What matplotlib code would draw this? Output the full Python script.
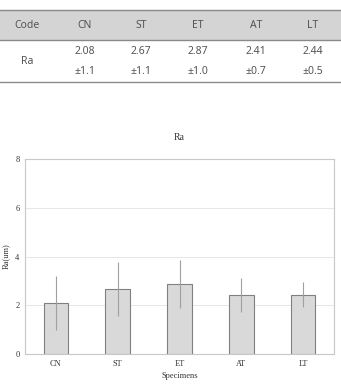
import matplotlib.pyplot as plt
from matplotlib.patches import Rectangle
from matplotlib.lines import Line2D

# data
codes = ['CN', 'ST', 'ET', 'AT', 'LT']
means = [2.08, 2.67, 2.87, 2.41, 2.44]
sds = [1.1, 1.1, 1.0, 0.7, 0.5]

W, H = 341, 385
fig = plt.figure(figsize=(W / 100, H / 100), dpi=100)

def fx(px):
    return px / W

def fy(py):
    return 1 - py / H

# table at the top
fig.patches.append(Rectangle((0, fy(40)), 1, fy(10) - fy(40), transform=fig.transFigure,
                             facecolor='#d4d4d4', edgecolor='none'))
for yy, c in [(10, '#8a8a8a'), (40, '#8a8a8a'), (82, '#8a8a8a')]:
    fig.lines.append(Line2D([0, 1], [fy(yy), fy(yy)], transform=fig.transFigure,
                            color=c, lw=1.0))

col_x = [27, 85, 141, 198, 256, 313]
tfont = dict(family='Noto Sans', fontsize=7.5, color='#555555', ha='center', va='center')
fig.text(fx(col_x[0]), fy(26), 'Code', **tfont)
fig.text(fx(col_x[0]), fy(62), 'Ra', **tfont)
for i, c in enumerate(codes):
    fig.text(fx(col_x[i + 1]), fy(26), c, **tfont)
    fig.text(fx(col_x[i + 1]), fy(51), f'{means[i]:.2f}', **tfont)
    fig.text(fx(col_x[i + 1]), fy(72), f'\u00b1{sds[i]:.1f}', **tfont)

# bar chart
ax = fig.add_axes([fx(25), fy(354), fx(334) - fx(25), fy(159) - fy(354)])
x = range(len(codes))
ax.bar(x, means, width=0.4, color='#d9d9d9', edgecolor='#808080', linewidth=0.8,
       yerr=sds, error_kw=dict(ecolor='#a0a0a0', elinewidth=0.8, capsize=0), zorder=3)
ax.set_xlim(-0.5, len(codes) - 0.5)
ax.set_ylim(0, 8)
ax.set_yticks([0, 2, 4, 6, 8])
ax.set_xticks(list(x))
ax.set_xticklabels(codes)
ax.grid(axis='y', color='#e6e6e6', lw=0.7, zorder=0)
for s in ax.spines.values():
    s.set_color('#c8c8c8')
    s.set_linewidth(0.8)
ax.tick_params(length=0, labelsize=6, colors='#333333', pad=4)
for lab in ax.get_xticklabels() + ax.get_yticklabels():
    lab.set_family('Liberation Serif')
ax.set_title('Ra', family='Liberation Serif', fontsize=7, color='#333333', pad=14)
ax.set_xlabel('Specimens', family='Liberation Serif', fontsize=6, color='#333333', labelpad=3)
ax.set_ylabel('Ra(um)', family='Liberation Serif', fontsize=6, color='#333333', labelpad=4)

fig.savefig('out.png', dpi=100)
